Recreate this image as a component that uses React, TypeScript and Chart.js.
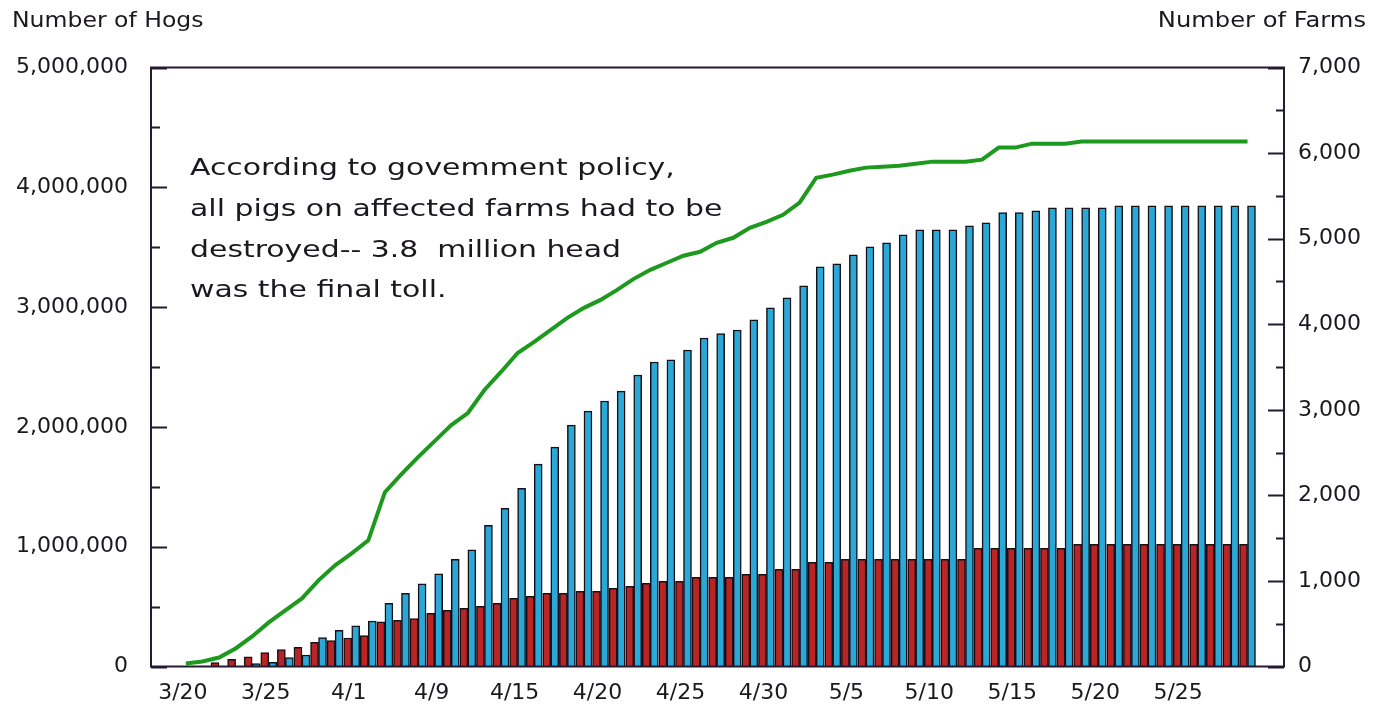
import React, { useEffect, useRef } from "react";
import { Chart, registerables } from "chart.js";

Chart.register(...registerables);

// ---- data (one entry per reporting day, index 0 = 3/20) ----
const dateLabels = ["3/20", "3/25", "4/1", "4/9", "4/15", "4/20", "4/25", "4/30", "5/5", "5/10", "5/15", "5/20", "5/25"];
const dateTickIdx = [0, 5, 10, 15, 20, 25, 30, 35, 40, 45, 50, 55, 60];

const hogsDestroyed = [
  0, 0, 0, 0, 25000, 35000, 75000, 96000, 242000, 301000,
  339000, 380000, 527000, 610000, 690000, 773000, 895000, 974000, 1179000, 1321000,
  1488000, 1689000, 1831000, 2015000, 2132000, 2216000, 2299000, 2433000, 2542000, 2559000,
  2642000, 2742000, 2780000, 2809000, 2893000, 2993000, 3077000, 3177000, 3336000, 3361000,
  3436000, 3503000, 3537000, 3604000, 3645000, 3645000, 3645000, 3679000, 3704000, 3788000,
  3788000, 3804000, 3829000, 3829000, 3829000, 3829000, 3846000, 3846000, 3846000, 3846000,
  3846000, 3846000, 3846000, 3846000, 3846000,
];

const hogsOther = [
  0, 0, 33000, 59000, 80000, 117000, 142000, 159000, 201000, 217000,
  238000, 259000, 372000, 385000, 401000, 443000, 468000, 485000, 502000, 527000,
  569000, 585000, 610000, 610000, 627000, 627000, 652000, 669000, 694000, 711000,
  711000, 744000, 744000, 744000, 769000, 769000, 811000, 811000, 870000, 870000,
  895000, 895000, 895000, 895000, 895000, 895000, 895000, 895000, 987000, 987000,
  987000, 987000, 987000, 987000, 1020000, 1020000, 1020000, 1020000, 1020000, 1020000,
  1020000, 1020000, 1020000, 1020000, 1020000,
];

const farmsInfected = [
  35, 59, 105, 211, 351, 515, 656, 796, 1007, 1182,
  1323, 1475, 2037, 2248, 2447, 2634, 2821, 2962, 3231, 3442,
  3664, 3793, 3933, 4074, 4191, 4284, 4401, 4530, 4636, 4718,
  4800, 4846, 4952, 5010, 5127, 5197, 5279, 5420, 5712, 5748,
  5794, 5830, 5841, 5853, 5876, 5900, 5900, 5900, 5923, 6064,
  6064, 6110, 6110, 6110, 6134, 6134, 6134, 6134, 6134, 6134,
  6134, 6134, 6134, 6134, 6134,
];

const hogMax = 5000000;
const hogMajor = 1000000;
const hogMinor = 500000;
const farmMax = 7000;
const farmMajor = 1000;
const farmMinor = 500;

const leftTitle = "Number of Hogs";
const rightTitle = "Number of Farms";
const noteLines = [
  "According to govemment policy,",
  "all pigs on affected farms had to be",
  "destroyed-- 3.8  million head",
  "was the final toll.",
];

const FONT = '"DejaVu Sans", "Liberation Sans", sans-serif';
const TEXT = "#1c1820";
const FRAME = "#241b33";

const decor = {
  id: "decor",
  afterDatasetsDraw(chart: any) {
    const { ctx, chartArea: a, scales } = chart;
    ctx.save();
    ctx.strokeStyle = FRAME;
    ctx.lineWidth = 2;
    ctx.strokeRect(a.left, a.top, a.right - a.left, a.bottom - a.top);
    ctx.beginPath();
    for (let v = 0; v <= hogMax; v += hogMinor) {
      const py = Math.round(scales.y.getPixelForValue(v)) + 0.5;
      const len = v % hogMajor === 0 ? 16 : 9;
      ctx.moveTo(a.left, py);
      ctx.lineTo(a.left + len, py);
    }
    for (let v = 0; v <= farmMax; v += farmMinor) {
      const py = Math.round(scales.y1.getPixelForValue(v)) + 0.5;
      const len = v % farmMajor === 0 ? 16 : 8;
      ctx.moveTo(a.right, py);
      ctx.lineTo(a.right - len, py);
    }
    ctx.stroke();

    ctx.fillStyle = TEXT;
    ctx.font = `22px ${FONT}`;
    ctx.textBaseline = "middle";
    ctx.save();
    ctx.translate(12, 21);
    ctx.scale(1.07, 1);
    ctx.textAlign = "left";
    ctx.fillText(leftTitle, 0, 0);
    ctx.restore();
    ctx.save();
    ctx.translate(1366, 21);
    ctx.scale(1.1, 1);
    ctx.textAlign = "right";
    ctx.fillText(rightTitle, 0, 0);
    ctx.restore();

    ctx.font = `23px ${FONT}`;
    ctx.textAlign = "left";
    ctx.textBaseline = "alphabetic";
    noteLines.forEach((t, k) => {
      ctx.save();
      ctx.translate(a.left + 39, 175 + k * 40.8);
      ctx.scale(1.3, 1);
      ctx.fillText(t, 0, 0);
      ctx.restore();
    });
    ctx.restore();
  },
};

export default function App() {
  const ref = useRef<HTMLCanvasElement>(null);
  useEffect(() => {
    document.body.style.margin = "0";
    Chart.defaults.font.family = FONT;
    const toPts = (arr: number[]) => arr.map((v, i) => ({ x: i, y: v }));
    const chart = new Chart(ref.current as HTMLCanvasElement, {
      type: "bar",
      data: {
        datasets: [
          {
            type: "line",
            data: toPts(farmsInfected),
            yAxisID: "y1",
            borderColor: "#1d9a1d",
            borderWidth: 4,
            pointRadius: 0,
            tension: 0,
            order: 0,
          } as any,
          {
            type: "bar",
            data: toPts(hogsOther),
            yAxisID: "y",
            backgroundColor: "#bb2424",
            borderColor: "#151018",
            borderWidth: 1.5,
            barThickness: 8,
            order: 1,
          },
          {
            type: "bar",
            data: toPts(hogsDestroyed),
            yAxisID: "y",
            backgroundColor: "#2aa8d8",
            borderColor: "#151018",
            borderWidth: 1.5,
            barThickness: 8,
            order: 1,
          },
        ],
      },
      options: {
        responsive: true,
        maintainAspectRatio: false,
        animation: false,
        layout: { padding: { top: 67.5, left: 0, right: 0, bottom: 0 } },
        plugins: { legend: { display: false }, tooltip: { enabled: false } },
        scales: {
          x: {
            type: "linear",
            min: -2.1,
            max: 66.2,
            offset: false,
            grid: { display: false, drawTicks: false },
            border: { display: false },
            afterBuildTicks: (s: any) => {
              s.ticks = dateTickIdx.map((v) => ({ value: v }));
            },
            afterFit: (s: any) => {
              s.height = 44.5;
            },
            ticks: {
              autoSkip: false,
              maxRotation: 0,
              padding: 14,
              labelOffset: -3,
              color: TEXT,
              font: { size: 22 },
              callback: (_v: any, i: number) => dateLabels[i],
            },
          },
          y: {
            position: "left",
            min: 0,
            max: hogMax,
            grid: { display: false, drawTicks: false },
            border: { display: false },
            afterFit: (s: any) => {
              s.width = 151;
            },
            ticks: {
              stepSize: hogMajor,
              padding: 23,
              color: TEXT,
              font: { size: 22 },
              callback: (v: any) => Number(v).toLocaleString("en-US"),
            },
          },
          y1: {
            position: "right",
            min: 0,
            max: farmMax,
            grid: { display: false, drawTicks: false },
            border: { display: false },
            afterFit: (s: any) => {
              s.width = 95;
            },
            ticks: {
              stepSize: farmMajor,
              padding: 14,
              color: TEXT,
              font: { size: 22 },
              callback: (v: any) => Number(v).toLocaleString("en-US"),
            },
          },
        },
      },
      plugins: [decor],
    });
    return () => chart.destroy();
  }, []);
  return (
    <div style={{ position: "relative", width: 1379, height: 711, background: "#fff" }}>
      <canvas ref={ref} />
    </div>
  );
}
